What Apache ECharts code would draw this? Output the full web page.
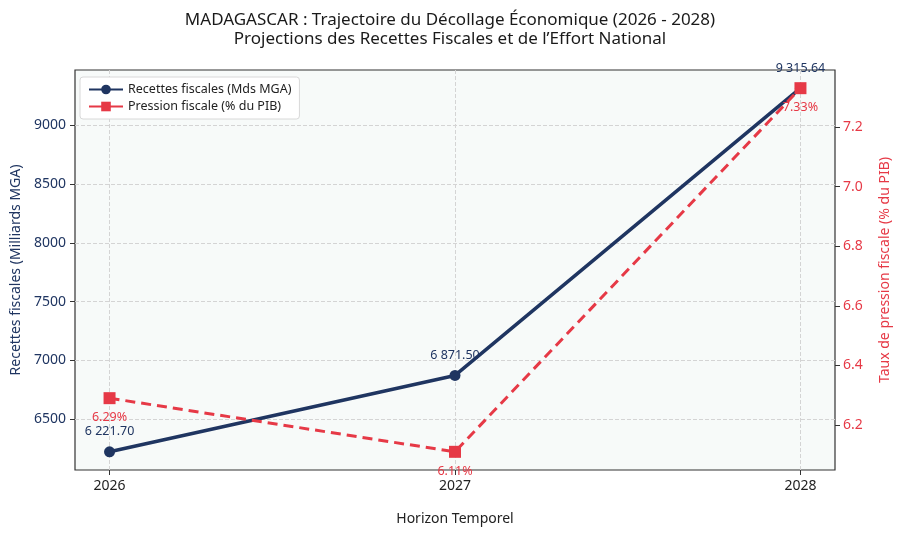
<!DOCTYPE html>
<html>
<head>
<meta charset="utf-8">
<script src="https://cdn.jsdelivr.net/npm/echarts@6/dist/echarts.min.js"></script>
<style>
  html, body { margin: 0; padding: 0; background: #ffffff; }
  #chart { width: 900px; height: 537px; }
</style>
</head>
<body>
<div id="chart"></div>
<script>
const years = [2026, 2027, 2028];
const recettes = [6221.70, 6871.50, 9315.64];
const pression = [6.29, 6.11, 7.33];
const leftTicks = [6500, 7000, 7500, 8000, 8500, 9000];
const rightTicks = [6.2, 6.4, 6.6, 6.8, 7.0, 7.2];

const NAVY = '#1f3561';
const RED = '#e63946';
const FONT = 'Noto Sans';

// "6 221.70" style: space for thousands, dot for decimals
const fmtMds = (v) => {
  const [i, d] = v.toFixed(2).split('.');
  return i.replace(/\B(?=(\d{3})+(?!\d))/g, ' ') + '.' + d;
};

const chart = echarts.init(document.getElementById('chart'));

const option = {
  backgroundColor: '#ffffff',
  textStyle: { fontFamily: FONT },
  title: {
    text: 'MADAGASCAR : Trajectoire du Décollage Économique (2026 - 2028)\nProjections des Recettes Fiscales et de l’Effort National',
    left: 'center',
    top: 6,
    textStyle: { fontFamily: FONT, fontSize: 17, fontWeight: 'normal', color: '#1a1a1a', lineHeight: 19 },
  },
  legend: {
    orient: 'vertical',
    left: 80,
    top: 77,
    padding: [6, 8, 6, 8],
    itemGap: 4,
    itemWidth: 34,
    itemHeight: 12,
    backgroundColor: '#ffffff',
    borderColor: '#d8d8d8',
    borderWidth: 1,
    borderRadius: 3,
    lineStyle: { type: 'solid' },
    textStyle: { fontFamily: FONT, fontSize: 12.5, color: '#222' },
    data: ['Recettes fiscales (Mds MGA)', 'Pression fiscale (% du PIB)'],
  },
  grid: {
    left: 75,
    right: 60,
    top: 70,
    bottom: 67,
    show: true,
    backgroundColor: '#f7faf9',
    borderColor: '#333',
    borderWidth: 1.2,
  },
  xAxis: {
    type: 'value',
    min: 2025.9,
    max: 2028.1,
    name: 'Horizon Temporel',
    nameLocation: 'middle',
    nameGap: 42,
    nameTextStyle: { fontFamily: FONT, fontSize: 14, color: '#222' },
    axisLine: { show: false },
    axisTick: { show: true, customValues: years, length: 5, lineStyle: { color: '#333' } },
    axisLabel: { customValues: years, formatter: (v) => String(v), fontSize: 14, color: '#222', margin: 9 },
    splitLine: { show: true, lineStyle: { type: 'dashed', color: '#d4d4d4' } },
  },
  yAxis: [
    {
      type: 'value',
      min: 6067,
      max: 9470,
      name: 'Recettes fiscales (Milliards MGA)',
      nameLocation: 'middle',
      nameGap: 51,
      nameTextStyle: { fontFamily: FONT, fontSize: 14, color: NAVY },
      axisLine: { show: false },
      axisTick: { show: true, customValues: leftTicks, length: 5, lineStyle: { color: '#333' } },
      axisLabel: { customValues: leftTicks, formatter: (v) => String(v), fontSize: 14, color: NAVY, margin: 9 },
      splitLine: { show: true, lineStyle: { type: 'dashed', color: '#d4d4d4' } },
    },
    {
      type: 'value',
      position: 'right',
      min: 6.049,
      max: 7.391,
      name: 'Taux de pression fiscale (% du PIB)',
      nameLocation: 'middle',
      nameGap: 43,
      nameRotate: 90,
      nameTextStyle: { fontFamily: FONT, fontSize: 14, color: RED },
      axisLine: { show: false },
      axisTick: { show: true, customValues: rightTicks, length: 5, lineStyle: { color: '#333' } },
      axisLabel: { customValues: rightTicks, formatter: (v) => v.toFixed(1), fontSize: 14, color: RED, margin: 8 },
      splitLine: { show: false },
    },
  ],
  series: [
    {
      name: 'Recettes fiscales (Mds MGA)',
      type: 'line',
      yAxisIndex: 0,
      data: years.map((y, i) => [y, recettes[i]]),
      symbol: 'circle',
      symbolSize: 11,
      lineStyle: { color: NAVY, width: 3.5 },
      itemStyle: { color: NAVY },
      label: {
        show: true,
        position: 'top',
        distance: 8,
        fontSize: 12.5,
        color: NAVY,
        formatter: (p) => fmtMds(p.value[1]),
      },
      z: 3,
    },
    {
      name: 'Pression fiscale (% du PIB)',
      type: 'line',
      yAxisIndex: 1,
      data: years.map((y, i) => [y, pression[i]]),
      symbol: 'rect',
      symbolSize: 12,
      lineStyle: { color: RED, width: 3, type: [10, 6] },
      itemStyle: { color: RED },
      label: {
        show: true,
        position: 'bottom',
        distance: 7,
        fontSize: 12.5,
        color: RED,
        formatter: (p) => p.value[1].toFixed(2) + '%',
      },
      z: 4,
    },
  ],
};

chart.setOption(option);
</script>
</body>
</html>
